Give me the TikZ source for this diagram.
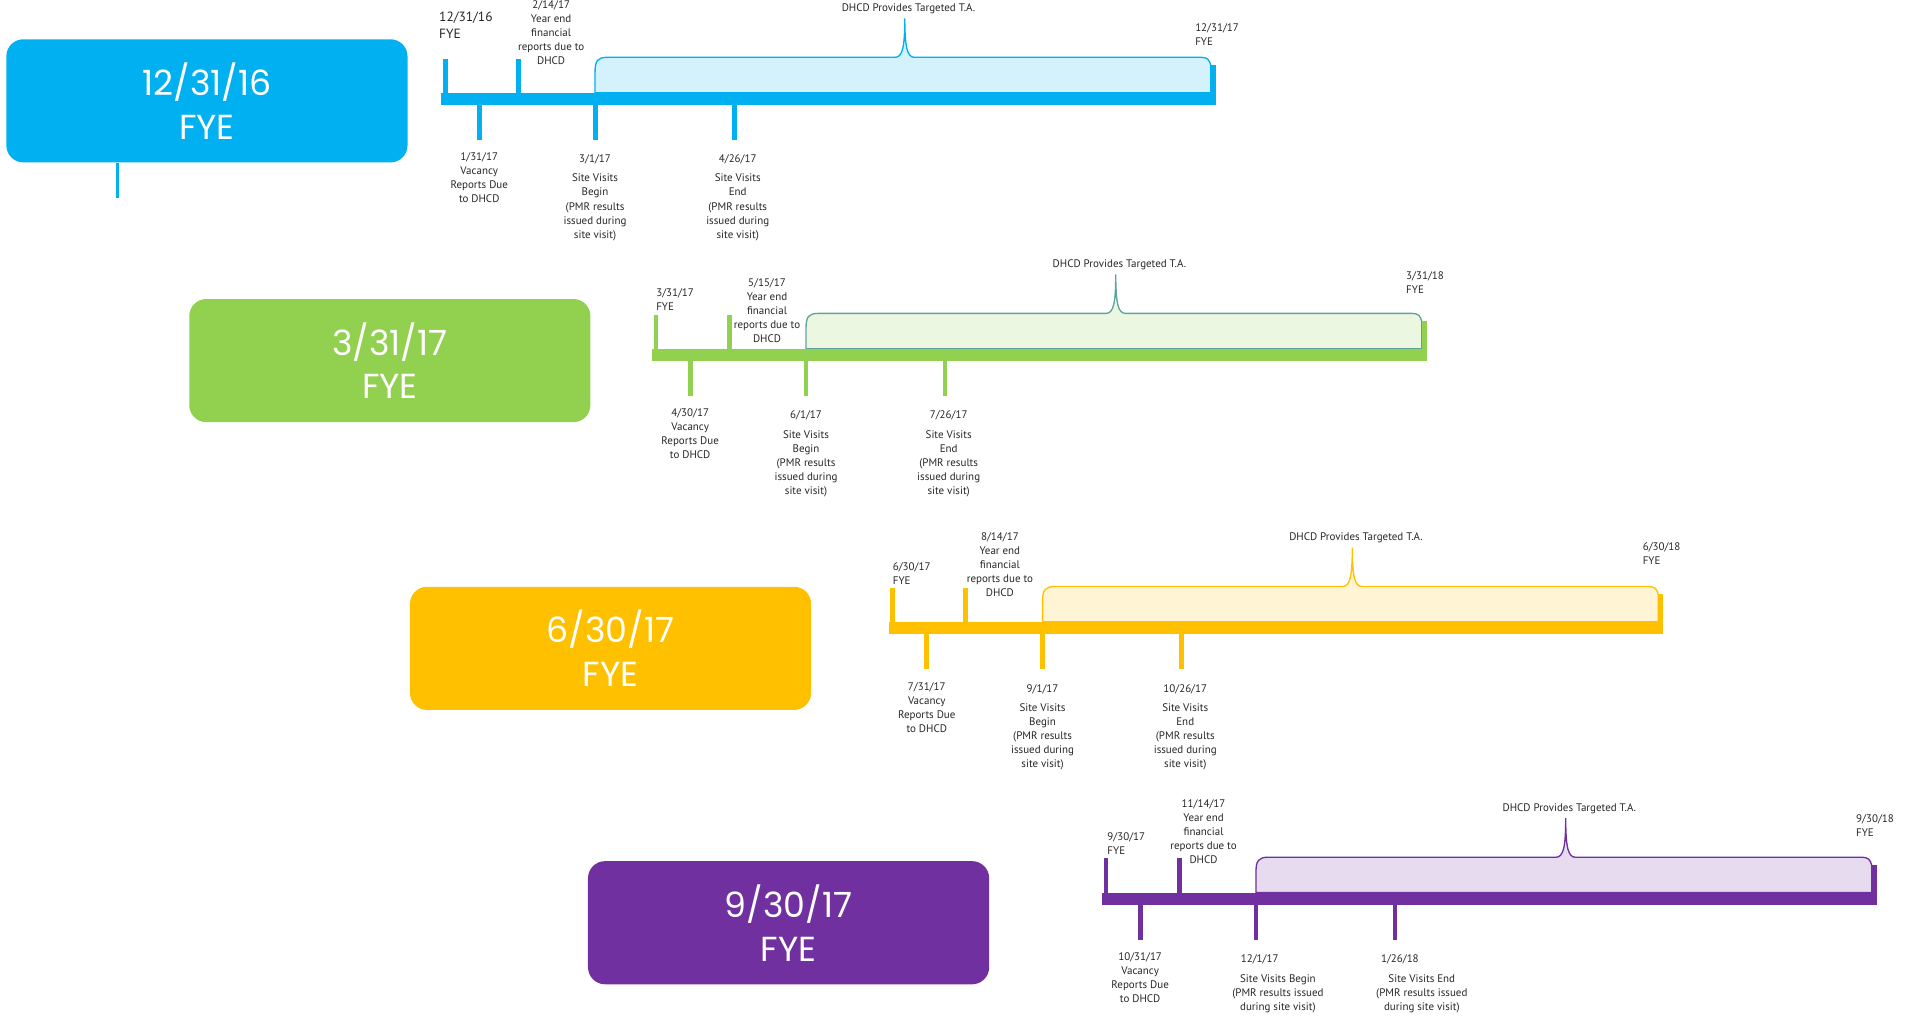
\documentclass[tikz,border=0pt]{standalone}
\usepackage{fontspec}
\setmainfont{PT Sans}
\newfontfamily\boxfont{Poppins}
\definecolor{fyeA}{HTML}{00B0F0}
\definecolor{fyeB}{HTML}{92D050}
\definecolor{fyeC}{HTML}{FFC000}
\definecolor{fyeD}{HTML}{7030A0}
\definecolor{edgeA}{HTML}{00B0F0}
\definecolor{edgeB}{HTML}{5FA39F}
\definecolor{edgeC}{HTML}{FFC000}
\definecolor{edgeD}{HTML}{7030A0}
\begin{document}
\begin{tikzpicture}[x=1pt, y=-1pt,
    fyebox/.style={rectangle, rounded corners=14pt, minimum width=329pt, minimum height=101pt,
      anchor=north west, text=white, font=\boxfont\fontsize{28.5}{36}\selectfont, align=center},
    lbl/.style={text=black!85, font=\fontsize{9}{11.5}\selectfont, align=center, inner sep=0pt},
    tick/.style={line width=4pt}]
  \useasboundingbox (0,0) rectangle (1568,833);
  \foreach \c/\L/\Y/\bx/\by/\fye/\nxt/\ye/\va/\sb/\se/\fy/\yy/\ny in {
      A/362/81/5/32/{12/31/16}/{12/31/17}/{2/14/17}/{1/31/17}/{3/1/17}/{4/26/17}/{-2,-60}/{90,-54}/-53,
      B/535/291/155/245/{3/31/17}/{3/31/18}/{5/15/17}/{4/30/17}/{6/1/17}/{7/26/17}/{3,-45}/{94,-36}/-59,
      C/729/515/336/481/{6/30/17}/{6/30/18}/{8/14/17}/{7/31/17}/{9/1/17}/{10/26/17}/{3,-45}/{91,-52}/-61,
      D/904/737/482/706/{9/30/17}/{9/30/18}/{11/14/17}/{10/31/17}/{12/1/17}/{1/26/18}/{4,-45}/{83,-55}/-60}{
    \node[fyebox, fill=fye\c] (box\c) at (\bx,\by) {\fye\\FYE};
    \begin{scope}[shift={(\L,\Y)}]
      % targeted T.A. window
      \filldraw[fill=fye\c!17, draw=edge\c, line width=1.1pt] (126,-5) -- (126,-22)
        .. controls (126,-31) and (128,-34) .. (136,-34) -- (372,-34)
        .. controls (378,-34) and (380,-42) .. (380,-66)
        .. controls (380,-42) and (382,-34) .. (388,-34) -- (623,-34)
        .. controls (628,-34) and (630,-32) .. (631,-27) -- (631,-5) -- cycle;
      \fill[fye\c] (0,-5) rectangle (635,5);
      \draw[fye\c, tick] (3,-5) -- (3,-33);
      \draw[fye\c, tick] (63,-5) -- (63,-33);
      \draw[fye\c, tick] (633,-5) -- (633,-28);
      \draw[fye\c, tick] (31,5) -- (31,34);
      \draw[fye\c, tick] (126,5) -- (126,34);
      \draw[fye\c, tick] (240,5) -- (240,34);
      \node[lbl, anchor=west, align=left,
        font=\if\c A\fontsize{11}{14}\selectfont\else\fontsize{9}{11.5}\selectfont\fi]
        (start\c) at (\fy) {\fye\\FYE};
      \node[lbl] (yearend\c) at (\yy) {\ye\\Year end\\financial\\reports due to\\DHCD};
      \node[lbl] (ta\c) at (383,-74) {DHCD Provides Targeted T.A.};
      \node[lbl, anchor=west, align=left] (next\c) at (618,\ny) {\nxt\\FYE};
      \node[lbl] (vacancy\c) at (31,65) {\va\\Vacancy\\Reports Due\\to DHCD};
      \if\c D
        \node[lbl] (begindate\c) at (129,50) {\sb};
        \node[lbl] (begin\c) at (144,78) {Site Visits Begin\\(PMR results issued\\during site visit)};
        \node[lbl] (enddate\c) at (244,50) {\se};
        \node[lbl] (end\c) at (262,78) {Site Visits End\\(PMR results issued\\during site visit)};
      \else
        \node[lbl] (begindate\c) at (126,50) {\sb};
        \node[lbl] (begin\c) at (126,89) {Site Visits\\Begin\\(PMR results\\issued during\\site visit)};
        \node[lbl] (enddate\c) at (243,50) {\se};
        \node[lbl] (end\c) at (243,89) {Site Visits\\End\\(PMR results\\issued during\\site visit)};
      \fi
    \end{scope}
  }
  \draw[fyeA, line width=2pt] ([xshift=-73.5pt]boxA.south) -- ++(0,29);
\end{tikzpicture}
\end{document}
